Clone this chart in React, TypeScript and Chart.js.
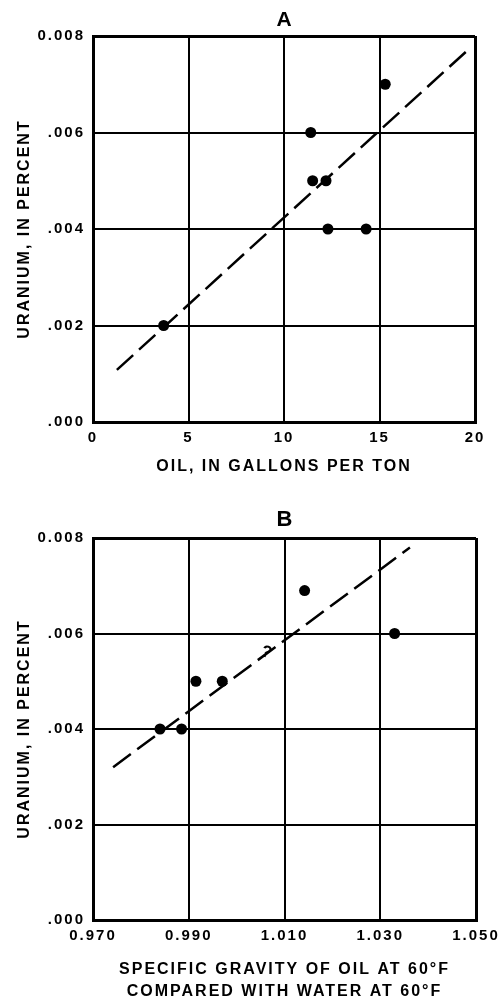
import React, { useEffect, useRef } from 'react';
import { Chart, registerables } from 'chart.js';

Chart.register(...registerables);

// ---------- Panel A data ----------
const oilA = [3.7, 11.4, 11.5, 12.2, 12.3, 14.3, 15.3];
const uraniumA = [0.002, 0.006, 0.005, 0.005, 0.004, 0.004, 0.007];
const trendOilA = [1.25, 19.6];
const trendUraniumA = [0.00108, 0.0077];
const oilTicks = [0, 5, 10, 15, 20];
const oilTickLabels = ['0', '5', '10', '15', '20'];

// ---------- Shared y axis ----------
const uraniumTicks = [0, 0.002, 0.004, 0.006, 0.008];
const uraniumTickLabels = ['.000', '.002', '.004', '.006', '0.008'];

// ---------- Panel B data ----------
const gravityB = [0.984, 0.9885, 0.9915, 0.997, 1.0142, 1.033];
const uraniumB = [0.004, 0.004, 0.005, 0.005, 0.0069, 0.006];
const trendGravityB = [0.9742, 1.0362];
const trendUraniumB = [0.0032, 0.0078];
const gravityTicks = [0.97, 0.99, 1.01, 1.03, 1.05];
const gravityTickLabels = ['0.970', '0.990', '1.010', '1.030', '1.050'];
const questionGravity = [1.0062];
const questionUranium = [0.0056];

const FONT = '"Liberation Sans", Arial, Helvetica, sans-serif';

type PanelProps = {
  panel: string;
  panelSize: number;
  panelY: number;
  height: number;
  padTop: number;
  padRight: number;
  padBottom: number;
  xAxisH: number;
  xs: number[];
  ys: number[];
  trendX: number[];
  trendY: number[];
  xTicks: number[];
  xLabels: string[];
  xTitle: string | string[];
  xTitleLineHeight: string | number;
  xTitlePadBottom: number;
  notes?: { x: number; y: number; text: string }[];
};

function Panel(p: PanelProps) {
  const ref = useRef<HTMLCanvasElement | null>(null);
  useEffect(() => {
    if (!ref.current) return;
    const xmin = p.xTicks[0];
    const xmax = p.xTicks[p.xTicks.length - 1];
    const edgeWidth = (c: any) =>
      c.index === 0 || c.index === 4 ? 3 : 2;
    const textPlugin = {
      id: 'panelText',
      beforeDraw(chart: any) {
        chart.ctx.letterSpacing = '2px';
      },
      afterDraw(chart: any) {
        const ctx = chart.ctx;
        const ca = chart.chartArea;
        ctx.save();
        ctx.letterSpacing = '0px';
        ctx.fillStyle = '#000';
        ctx.textAlign = 'center';
        ctx.textBaseline = 'middle';
        ctx.font = `bold ${p.panelSize}px ${FONT}`;
        ctx.fillText(p.panel, (ca.left + ca.right) / 2, p.panelY);
        if (p.notes) {
          for (const n of p.notes) {
            const px = chart.scales.x.getPixelForValue(n.x);
            const py = chart.scales.y.getPixelForValue(n.y);
            ctx.save();
            ctx.translate(px, py);
            ctx.rotate(0.35);
            ctx.font = `bold 17px ${FONT}`;
            ctx.fillText(n.text, 0, 0);
            ctx.restore();
          }
        }
        ctx.restore();
      },
    };
    const chart = new Chart(ref.current, {
      type: 'scatter',
      data: {
        datasets: [
          {
            data: p.xs.map((x, i) => ({ x, y: p.ys[i] })),
            pointRadius: 5.5,
            pointHoverRadius: 5.5,
            backgroundColor: '#000',
            borderColor: '#000',
            borderWidth: 0,
            showLine: false,
          },
          {
            data: p.trendX.map((x, i) => ({ x, y: p.trendY[i] })),
            showLine: true,
            borderColor: '#000',
            borderWidth: 2.5,
            borderDash: [22, 8],
            pointRadius: 0,
            fill: false,
          },
        ],
      },
      options: {
        responsive: false,
        animation: false,
        events: [],
        layout: {
          padding: { top: p.padTop, right: p.padRight, bottom: p.padBottom, left: 0 },
        },
        plugins: {
          legend: { display: false },
          tooltip: { enabled: false },
          title: { display: false },
        },
        scales: {
          x: {
            type: 'linear',
            min: xmin,
            max: xmax,
            afterBuildTicks: (s: any) => {
              s.ticks = p.xTicks.map((v) => ({ value: v }));
            },
            afterFit: (s: any) => {
              s.height = p.xAxisH;
            },
            grid: { color: '#000', lineWidth: edgeWidth, drawTicks: false },
            border: { display: true, color: '#000', width: 3 },
            ticks: {
              autoSkip: false,
              maxRotation: 0,
              padding: 7,
              color: '#000',
              font: { family: FONT, size: 15, weight: 'bold' },
              callback: (_v: any, i: number) => p.xLabels[i],
            },
            title: {
              display: true,
              text: p.xTitle,
              color: '#000',
              font: { family: FONT, size: 16, weight: 'bold', lineHeight: p.xTitleLineHeight },
              padding: { top: 0, bottom: p.xTitlePadBottom },
            },
          },
          y: {
            type: 'linear',
            min: 0,
            max: 0.008,
            afterBuildTicks: (s: any) => {
              s.ticks = uraniumTicks.map((v) => ({ value: v }));
            },
            afterFit: (s: any) => {
              s.width = 93;
            },
            grid: { color: '#000', lineWidth: edgeWidth, drawTicks: false },
            border: { display: true, color: '#000', width: 3 },
            ticks: {
              autoSkip: false,
              padding: 8,
              color: '#000',
              font: { family: FONT, size: 15, weight: 'bold' },
              callback: (_v: any, i: number) => uraniumTickLabels[i],
            },
            title: {
              display: true,
              text: 'URANIUM, IN PERCENT',
              color: '#000',
              font: { family: FONT, size: 16, weight: 'bold', lineHeight: 1.2 },
              padding: { top: 15.4, bottom: 0 },
            },
          },
        },
      },
      plugins: [textPlugin],
    } as any);
    return () => chart.destroy();
  }, []);
  return <canvas ref={ref} width={504} height={p.height} style={{ display: 'block' }} />;
}

export default function App() {
  return (
    <div
      style={{
        position: 'fixed',
        left: 0,
        top: 0,
        width: 504,
        height: 1001,
        background: '#fff',
        overflow: 'hidden',
      }}
    >
      <div style={{ position: 'absolute', left: 0, top: 0 }}>
        <Panel
          panel="A"
          panelSize={21}
          panelY={20}
          height={490}
          padTop={36}
          padRight={29}
          padBottom={8}
          xAxisH={60}
          xs={oilA}
          ys={uraniumA}
          trendX={trendOilA}
          trendY={trendUraniumA}
          xTicks={oilTicks}
          xLabels={oilTickLabels}
          xTitle="OIL, IN GALLONS PER TON"
          xTitleLineHeight={1.2}
          xTitlePadBottom={5.4}
        />
      </div>
      <div style={{ position: 'absolute', left: 0, top: 490 }}>
        <Panel
          panel="B"
          panelSize={22}
          panelY={30}
          height={511}
          padTop={48}
          padRight={28}
          padBottom={0}
          xAxisH={81}
          xs={gravityB}
          ys={uraniumB}
          trendX={trendGravityB}
          trendY={trendUraniumB}
          xTicks={gravityTicks}
          xLabels={gravityTickLabels}
          xTitle={['SPECIFIC GRAVITY OF OIL AT 60°F', 'COMPARED WITH WATER AT 60°F']}
          xTitleLineHeight="22px"
          xTitlePadBottom={-2}
          notes={[{ x: questionGravity[0], y: questionUranium[0], text: '?' }]}
        />
      </div>
    </div>
  );
}
